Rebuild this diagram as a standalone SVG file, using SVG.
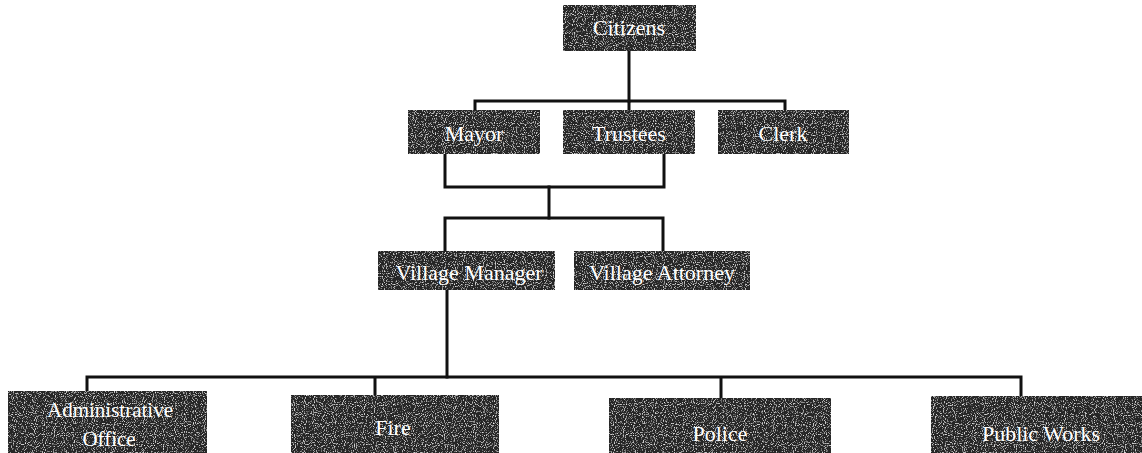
<svg xmlns="http://www.w3.org/2000/svg" width="1142" height="453" viewBox="0 0 1142 453">
<defs>
<filter id="grain" x="0" y="0" width="1" height="1">
<feTurbulence type="fractalNoise" baseFrequency="0.9" numOctaves="1" seed="3" result="n"/>
<feColorMatrix in="n" type="matrix" values="0 0 0 0 1  0 0 0 0 1  0 0 0 0 1  3.2 0 0 0 -1.72" result="dots"/>
<feComposite in="dots" in2="SourceGraphic" operator="in" result="d2"/>
<feMerge><feMergeNode in="SourceGraphic"/><feMergeNode in="d2"/></feMerge>
</filter>
</defs>
<style>
.box{fill:#262626;filter:url(#grain)}
.lbl{fill:#ffffff;font-family:"Liberation Serif","Times New Roman",serif;font-size:22px;text-anchor:middle}
.con{fill:none;stroke:#111;stroke-width:3;stroke-linejoin:miter;stroke-linecap:square}
</style>
<rect width="1142" height="453" fill="#ffffff"/>
<g id="connectors">
<path class="con" d="M629 52 V101"/>
<path class="con" d="M475 110 V101 H785 V110 M629 101 V110"/>
<path class="con" d="M445 154 V187 H664 V154"/>
<path class="con" d="M549 187 V218"/>
<path class="con" d="M445 251 V218 H663 V251"/>
<path class="con" d="M447 290 V377"/>
<path class="con" d="M87 391 V377 H1021 V396 M375 377 V395 M721 377 V398"/>
</g>
<g id="citizens"><rect class="box" x="563" y="5" width="133" height="46"/><text class="lbl" x="629" y="35">Citizens</text></g>
<g id="mayor"><rect class="box" x="408" y="110" width="132" height="44"/><text class="lbl" x="474" y="141">Mayor</text></g>
<g id="trustees"><rect class="box" x="563" y="110" width="132" height="44"/><text class="lbl" x="629" y="141">Trustees</text></g>
<g id="clerk"><rect class="box" x="718" y="110" width="131" height="44"/><text class="lbl" x="783" y="141">Clerk</text></g>
<g id="village-manager"><rect class="box" x="378" y="251" width="177" height="39"/><text class="lbl" x="469" y="280">Village Manager</text></g>
<g id="village-attorney"><rect class="box" x="574" y="251" width="176" height="39"/><text class="lbl" x="662" y="280">Village Attorney</text></g>
<g id="administrative-office"><rect class="box" x="8" y="391" width="199" height="62"/><text class="lbl" x="110" y="417" style="font-size:21px">Administrative</text><text class="lbl" x="109" y="446" style="font-size:21px">Office</text></g>
<g id="fire"><rect class="box" x="291" y="395" width="208" height="58"/><text class="lbl" x="393" y="435">Fire</text></g>
<g id="police"><rect class="box" x="609" y="398" width="222" height="55"/><text class="lbl" x="720" y="441">Police</text></g>
<g id="public-works"><rect class="box" x="931" y="396" width="211" height="57"/><text class="lbl" x="1041" y="441">Public Works</text></g>
</svg>
